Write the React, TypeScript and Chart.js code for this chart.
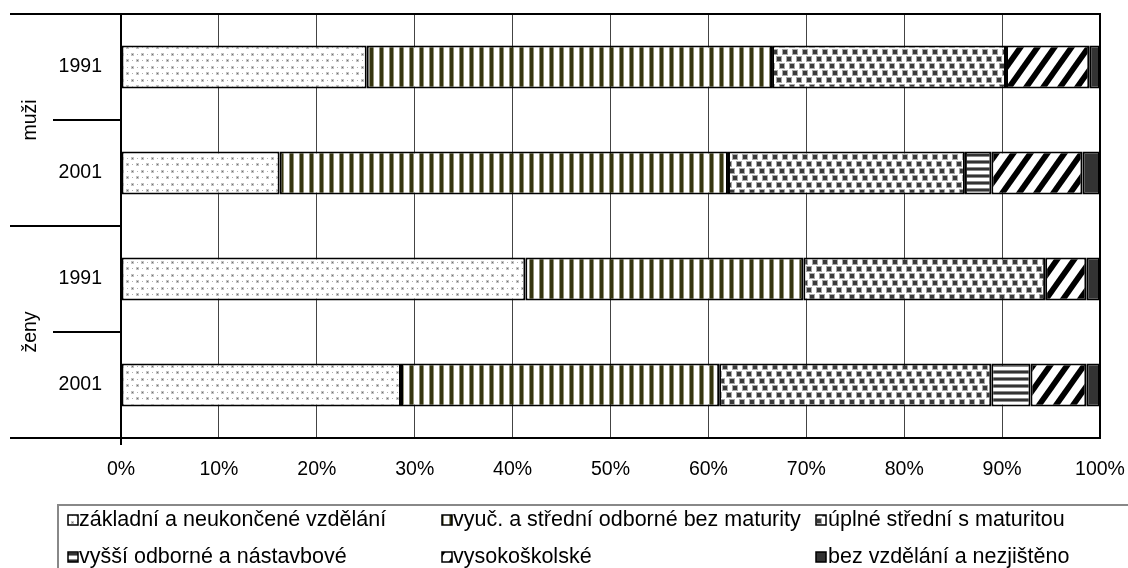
import React, { useEffect, useRef } from "react";
import { Chart, registerables } from "chart.js";

Chart.register(...registerables);

// ---------- data ----------
const categories = ["1991", "2001", "1991", "2001"];
const groups = ["muži", "ženy"];
const seriesNames = [
  "základní a neukončené vzdělání",
  "vyuč. a střední odborné bez maturity",
  "úplné střední s maturitou",
  "vyšší odborné a nástavbové",
  "vysokoškolské",
  "bez vzdělání a nezjištěno",
];
const zakladni = [25.1, 16.2, 41.3, 28.6];
const vyucni = [41.4, 45.8, 28.4, 32.5];
const uplne = [23.9, 24.2, 24.7, 27.8];
const vyssi = [0, 2.7, 0, 4.0];
const vysoko = [8.5, 9.3, 4.2, 5.7];
const bez = [1.1, 1.8, 1.4, 1.4];
const xTickLabels = ["0%", "10%", "20%", "30%", "40%", "50%", "60%", "70%", "80%", "90%", "100%"];

const FONT = "'Liberation Sans', Arial, sans-serif";

function tile(w: number, h: number, draw: (g: CanvasRenderingContext2D) => void): CanvasPattern {
  const c = document.createElement("canvas");
  c.width = w;
  c.height = h;
  const g = c.getContext("2d")!;
  g.fillStyle = "#ffffff";
  g.fillRect(0, 0, w, h);
  draw(g);
  return g.createPattern(c, "repeat")!;
}

function makePatterns(): (CanvasPattern | string)[] {
  const dots = tile(10, 13, (g) => {
    g.fillStyle = "#c4c4c4";
    g.fillRect(1, 1, 3, 3);
    g.fillRect(6, 7, 3, 3);
    g.fillStyle = "#707070";
    g.fillRect(2, 2, 1, 1);
    g.fillRect(7, 8, 1, 1);
    g.fillStyle = "#b0b0b0";
    g.fillRect(7, 2, 1, 1);
    g.fillRect(2, 8, 1, 1);
  });
  const vstripes = tile(10, 4, (g) => {
    g.fillStyle = "#353510";
    g.fillRect(0, 0, 3, 4);
    g.fillStyle = "#93937a";
    g.fillRect(3, 0, 1, 4);
    g.fillRect(9, 0, 1, 4);
  });
  const squares = tile(10, 21, (g) => {
    const pts = [
      [0, 1],
      [3, 8],
      [7, 15],
    ];
    for (const [x, y] of pts) {
      for (const dx of [-10, 0, 10]) {
        g.fillStyle = "#a8a8a8";
        g.fillRect(x + dx - 1, y - 1, 6, 6);
      }
    }
    for (const [x, y] of pts) {
      for (const dx of [-10, 0, 10]) {
        g.fillStyle = "#3a3a3a";
        g.fillRect(x + dx, y, 4, 4);
      }
    }
  });
  const hstripes = tile(4, 7, (g) => {
    g.fillStyle = "#333333";
    g.fillRect(0, 0, 4, 2);
    g.fillStyle = "#8a8a8a";
    g.fillRect(0, 2, 4, 1);
    g.fillRect(0, 6, 4, 1);
  });
  const diag = tile(17, 24, (g) => {
    g.strokeStyle = "#000000";
    g.lineWidth = 5.7;
    for (const k of [-17, 0, 17]) {
      g.beginPath();
      g.moveTo(k - 1.7, 26.4);
      g.lineTo(k + 18.7, -2.4);
      g.stroke();
    }
  });
  return [dots, vstripes, squares, hstripes, diag, "#333333"];
}

export default function App() {
  const ref = useRef<HTMLCanvasElement | null>(null);

  useEffect(() => {
    document.body.style.margin = "0";
    const canvas = ref.current!;
    const fills = makePatterns();
    const values = [zakladni, vyucni, uplne, vyssi, vysoko, bez];

    const decor = {
      id: "decor",
      afterDraw(chart: any) {
        const ctx: CanvasRenderingContext2D = chart.ctx;
        const { left, right, top, bottom } = chart.chartArea;
        const ys = chart.scales.y;
        ctx.save();
        ctx.strokeStyle = "#000";
        ctx.lineWidth = 2;
        const line = (x1: number, y1: number, x2: number, y2: number) => {
          ctx.beginPath();
          ctx.moveTo(x1, y1);
          ctx.lineTo(x2, y2);
          ctx.stroke();
        };
        line(10, top, right + 1, top);
        line(10, bottom, right + 1, bottom);
        line(right, top, right, bottom);
        line(left, top, left, bottom + 7);
        const pix = categories.map((_, i) => ys.getPixelForValue(i));
        for (let i = 0; i < categories.length - 1; i++) {
          const b = (pix[i] + pix[i + 1]) / 2;
          line(i % 2 === 1 ? 10 : 53, b, left, b);
        }
        ctx.fillStyle = "#000";
        ctx.font = `19.5px ${FONT}`;
        ctx.textAlign = "center";
        ctx.textBaseline = "middle";
        groups.forEach((gname, gi) => {
          const cy = (pix[gi * 2] + pix[gi * 2 + 1]) / 2;
          ctx.save();
          ctx.translate(31, cy);
          ctx.rotate(-Math.PI / 2);
          ctx.fillText(gname, 0, 0);
          ctx.restore();
        });

        // legend
        ctx.strokeStyle = "#888";
        ctx.lineWidth = 2;
        ctx.strokeRect(58, 505, 1200, 200);
        const iconX = [68, 442, 816];
        const textX = [79, 453, 828];
        const baseY = [526, 563];
        ctx.font = `21.5px ${FONT}`;
        ctx.textAlign = "left";
        ctx.textBaseline = "alphabetic";
        seriesNames.forEach((name, i) => {
          const col = i % 3;
          const row = Math.floor(i / 3);
          const ix = iconX[col];
          const iy = baseY[row] - 11;
          ctx.fillStyle = fills[i] as any;
          ctx.fillRect(ix, iy, 10, 10);
          ctx.strokeStyle = "#000";
          ctx.lineWidth = 1.5;
          ctx.strokeRect(ix, iy, 10, 10);
          ctx.fillStyle = "#000";
          ctx.fillText(name, textX[col], baseY[row]);
        });
        ctx.restore();
      },
    };

    const chart = new Chart(canvas, {
      type: "bar",
      data: {
        labels: categories,
        datasets: seriesNames.map((name, i) => ({
          label: name,
          data: values[i],
          backgroundColor: fills[i] as any,
          borderColor: "#000",
          borderWidth: 2,
          borderSkipped: false,
          barPercentage: 0.405,
          categoryPercentage: 1,
        })),
      },
      options: {
        indexAxis: "y",
        responsive: false,
        animation: false,
        layout: { padding: { top: 14, right: 28, left: 0, bottom: 0 } },
        plugins: { legend: { display: false }, tooltip: { enabled: false } },
        scales: {
          x: {
            stacked: true,
            min: 0,
            max: 100,
            ticks: {
              stepSize: 10,
              autoSkip: false,
              maxRotation: 0,
              color: "#000",
              padding: 20,
              font: { family: FONT, size: 19.5 },
              callback: (_v: any, i: number) => xTickLabels[i],
            },
            grid: { color: "#444", lineWidth: 1, drawTicks: false },
            border: { display: false },
            afterFit: (s: any) => {
              s.height = 130;
              s.paddingLeft = 0;
              s.paddingRight = 0;
              s.paddingTop = 0;
              s.paddingBottom = 0;
            },
          },
          y: {
            stacked: true,
            ticks: {
              color: "#000",
              padding: 19,
              font: { family: FONT, size: 19.5 },
            },
            grid: { display: false, drawTicks: false },
            border: { display: false },
            afterFit: (s: any) => {
              s.width = 121;
              s.paddingLeft = 0;
              s.paddingRight = 0;
              s.paddingTop = 0;
              s.paddingBottom = 0;
            },
          },
        },
      } as any,
      plugins: [decor],
    });
    return () => chart.destroy();
  }, []);

  return (
    <div style={{ position: "absolute", left: 0, top: 0, width: 1128, height: 568 }}>
      <canvas ref={ref} width={1128} height={568} style={{ display: "block" }} />
    </div>
  );
}
